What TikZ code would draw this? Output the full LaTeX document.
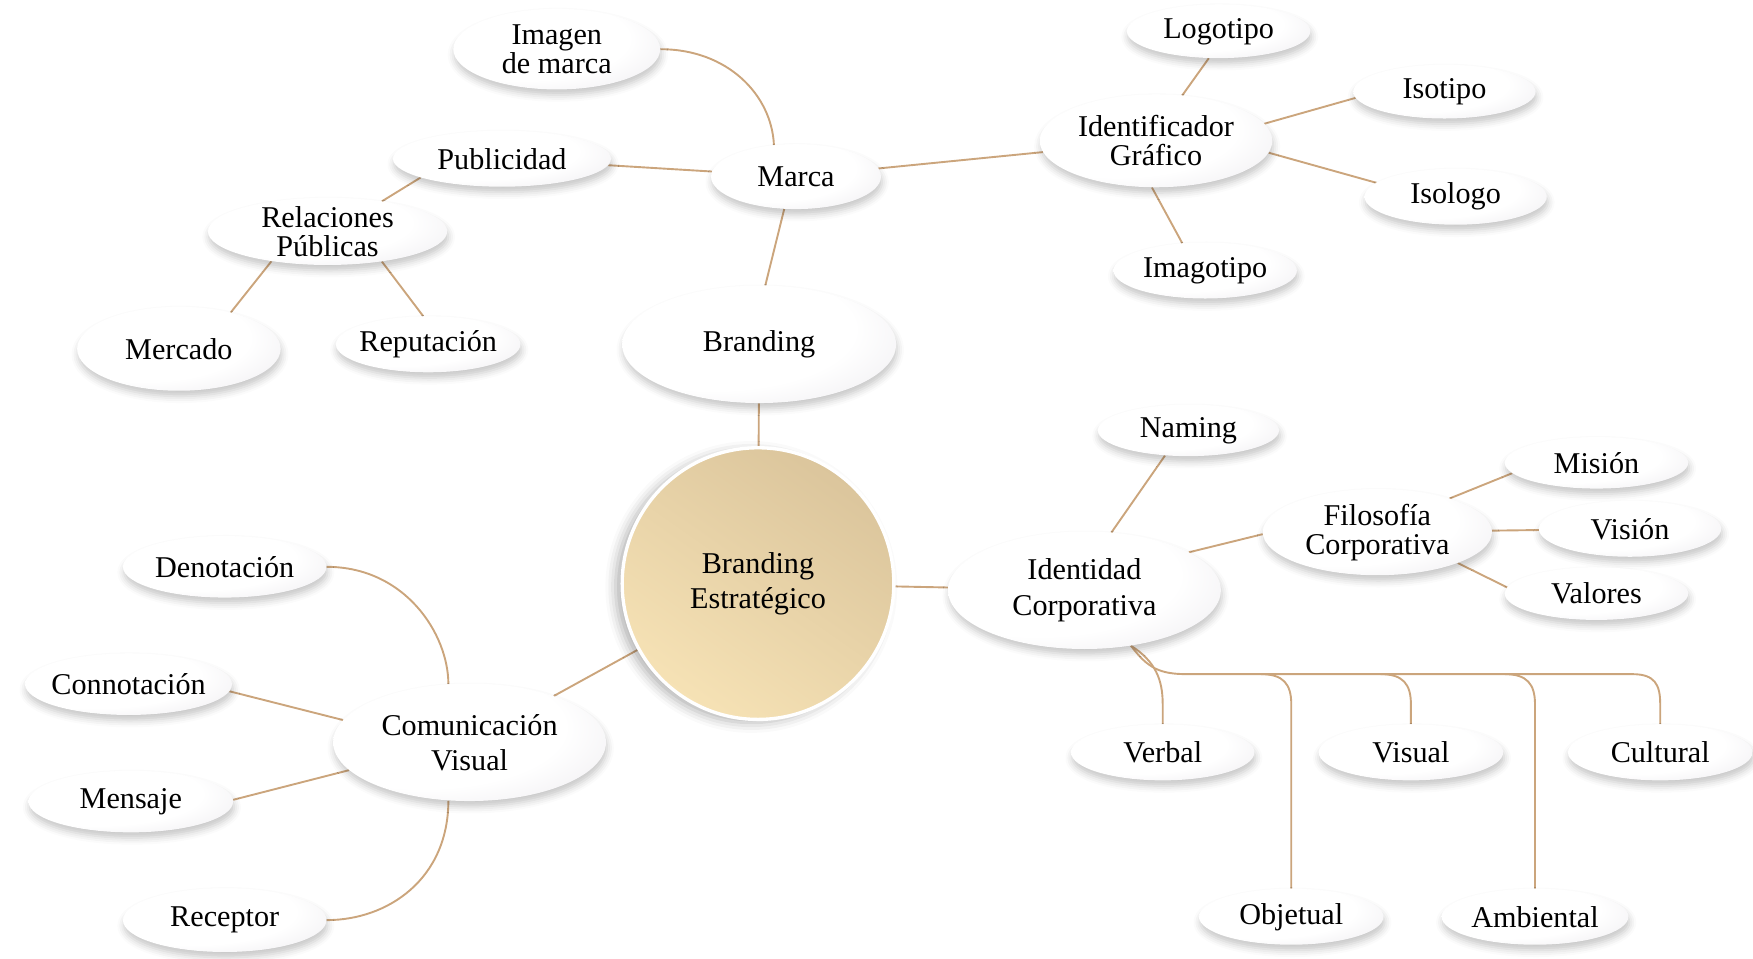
\documentclass[tikz,border=0pt]{standalone}
\usepackage{fontspec}
\setmainfont{Liberation Serif}
\usetikzlibrary{shapes.geometric,shadows.blur,backgrounds}

\definecolor{linkc}{RGB}{203,165,124}
\definecolor{bubmid}{RGB}{236,234,238}
\definecolor{bubrim}{RGB}{212,209,214}
\definecolor{coreA}{RGB}{219,197,156}
\definecolor{coreB}{RGB}{246,226,181}

% soft white-to-grey fill of the ovals, lit from the upper left
\pgfdeclareradialshading{bubshade}{\pgfpoint{-16bp}{12bp}}{%
  color(0bp)=(white); color(26bp)=(white); color(42bp)=(bubmid); color(56bp)=(bubrim)}

\tikzset{
  txt/.style={font=\fontsize{27}{26}\selectfont, align=center, inner sep=0pt},
  bigtxt/.style={txt, font=\fontsize{27}{31.5}\selectfont},
  ovalbase/.style 2 args={ellipse, inner sep=0pt,
    minimum width=#1pt, minimum height=#2pt, shading=bubshade,
    blur shadow={shadow xshift=1pt, shadow yshift=-5pt,
                 shadow opacity=22, shadow blur radius=6pt}},
  bub/.style n args={3}{ovalbase={#1}{#2}, label={[txt]center:#3}},
  bigbub/.style n args={3}{ovalbase={#1}{#2}, label={[bigtxt]center:#3}},
  core/.style={circle, inner sep=0pt, minimum size=243pt,
    top color=coreA, bottom color=coreB, shading angle=-35,
    draw=white, line width=3pt,
    blur shadow={shadow xshift=-6pt, shadow yshift=-3pt,
                 shadow opacity=30, shadow blur radius=9pt},
    label={[bigtxt]center:#1}},
  link/.style={draw=linkc, line width=1.7pt},
}

\begin{document}
\begin{tikzpicture}[x=1pt,y=-1pt]
\useasboundingbox (0,0) rectangle (1568,857);

% centre
\node[core={Branding\\Estratégico}] (core) at (678,522) {};

% upper branch: Branding / Marca
\node[bigbub={245}{105}{Branding}] (brand) at (679,308) {};
\node[bub={152}{58}{Marca}] (marca) at (712,158) {};
\node[bub={185}{72}{Imagen\\de marca}] (img) at (498,44) {};
\node[bub={195}{50}{Publicidad}] (pub) at (449,142) {};
\node[bub={214}{60}{Relaciones\\Públicas}] (rrpp) at (293,207) {};
\node[bub={182}{75}{Mercado}] (merc) at (160,312) {};
\node[bub={165}{50}{Reputación}] (rep) at (383,308) {};
\node[bub={208}{83}{Identificador\\Gráfico}] (idg) at (1034,126) {};
\node[bub={164}{48}{Logotipo}] (logo) at (1090,28) {};
\node[bub={163}{48}{Isotipo}] (iso) at (1292,82) {};
\node[bub={163}{50}{Isologo}] (isol) at (1302,176) {};
\node[bub={164}{50}{Imagotipo}] (imago) at (1078,242) {};

% right branch: Identidad Corporativa
\node[bigbub={244}{105}{Identidad\\Corporativa}] (idc) at (970,528) {};
\node[bub={162}{46}{Naming}] (naming) at (1063,385) {};
\node[bub={205}{77}{Filosofía\\Corporativa}] (filo) at (1232,476) {};
\node[bub={164}{46}{Misión}] (mision) at (1428,414) {};
\node[bub={163}{50}{Visión}] (vision) at (1458,473) {};
\node[bub={164}{47}{Valores}] (valores) at (1428,531) {};
\node[bub={164}{50}{Verbal}] (verbal) at (1040,673) {};
\node[bub={165}{50}{Visual}] (visual) at (1262,673) {};
\node[bub={165}{50}{Cultural}] (cultural) at (1485,673) {};
\node[bub={165}{50}{Objetual}] (objetual) at (1155,820) {};
\node[bub={167}{50}{Ambiental}] (ambiental) at (1373,820) {};

% left branch: Comunicación Visual
\node[bigbub={244}{105}{Comunicación\\Visual}] (comv) at (420,664) {};
\node[bub={182}{55}{Denotación}] (deno) at (201,507) {};
\node[bub={185}{55}{Connotación}] (conno) at (115,612) {};
\node[bub={183}{55}{Mensaje}] (mensaje) at (117,717) {};
\node[bub={182}{57}{Receptor}] (receptor) at (201,823) {};

% bus of the Identidad Corporativa tree
\coordinate (knee) at (0,630);
\coordinate (bus0) at (1062,603);
\coordinate (bus1) at (1460,603);
\coordinate (bObj) at (1128,603);
\coordinate (bVis) at (1235,603);
\coordinate (bAmb) at (1346,603);

\begin{scope}[on background layer]
  % Marca
  \draw[link] (img.east) .. controls +(60,0) and +(-2,-45) .. (marca.125);
  \draw[link] (pub.193) -- (rrpp.29);
  \draw[link] (pub) -- (marca);
  \draw[link] (rrpp.208) -- (merc.35);
  \draw[link] (rrpp.-29) -- (rep.100);
  \draw[link] (marca.-110) -- (brand.84);
  \draw[link] (marca) -- (idg);
  \draw[link] (idg.60) -- (logo.-110);
  \draw[link] (idg.9) -- (iso.184);
  \draw[link] (idg.-6) -- (isol.170);
  \draw[link] (idg.-95) -- (imago.130);
  \draw[link] (brand) -- (core);

  % Identidad Corporativa
  \draw[link] (core) -- (idc);
  \draw[link] (idc.65) -- (naming.-133);
  \draw[link] (idc.20) -- (filo.181);
  \draw[link] (filo.25) -- (mision.187);
  \draw[link] (filo) -- (vision);
  \draw[link] (filo.-21) -- (valores.176);
  \draw[link] (idc.-50) .. controls +(15,20) and +(-25,0) .. (bus0) -- (bus1)
    .. controls +(20,0) and +(0,-18) .. (cultural.north |- knee) -- (cultural.north);
  \draw[link] (idc.-50) .. controls +(22,14) and +(0,-22) .. (verbal.north |- knee) -- (verbal.north);
  \draw[link] (bObj) .. controls +(20,0) and +(0,-18) .. (objetual.north |- knee) -- (objetual.north);
  \draw[link] (bVis) .. controls +(20,0) and +(0,-18) .. (visual.north |- knee) -- (visual.north);
  \draw[link] (bAmb) .. controls +(20,0) and +(0,-18) .. (ambiental.north |- knee) -- (ambiental.north);

  % Comunicación Visual
  \draw[link] (core) -- (comv);
  \draw[link] (deno.east) .. controls +(70,0) and +(0,-45) .. (comv.110);
  \draw[link] (conno.-4) -- (comv.170);
  \draw[link] (mensaje.1) -- (comv.193);
  \draw[link] (comv.-110) .. controls +(0,70) and +(55,0) .. (receptor.east);
\end{scope}
\end{tikzpicture}
\end{document}
